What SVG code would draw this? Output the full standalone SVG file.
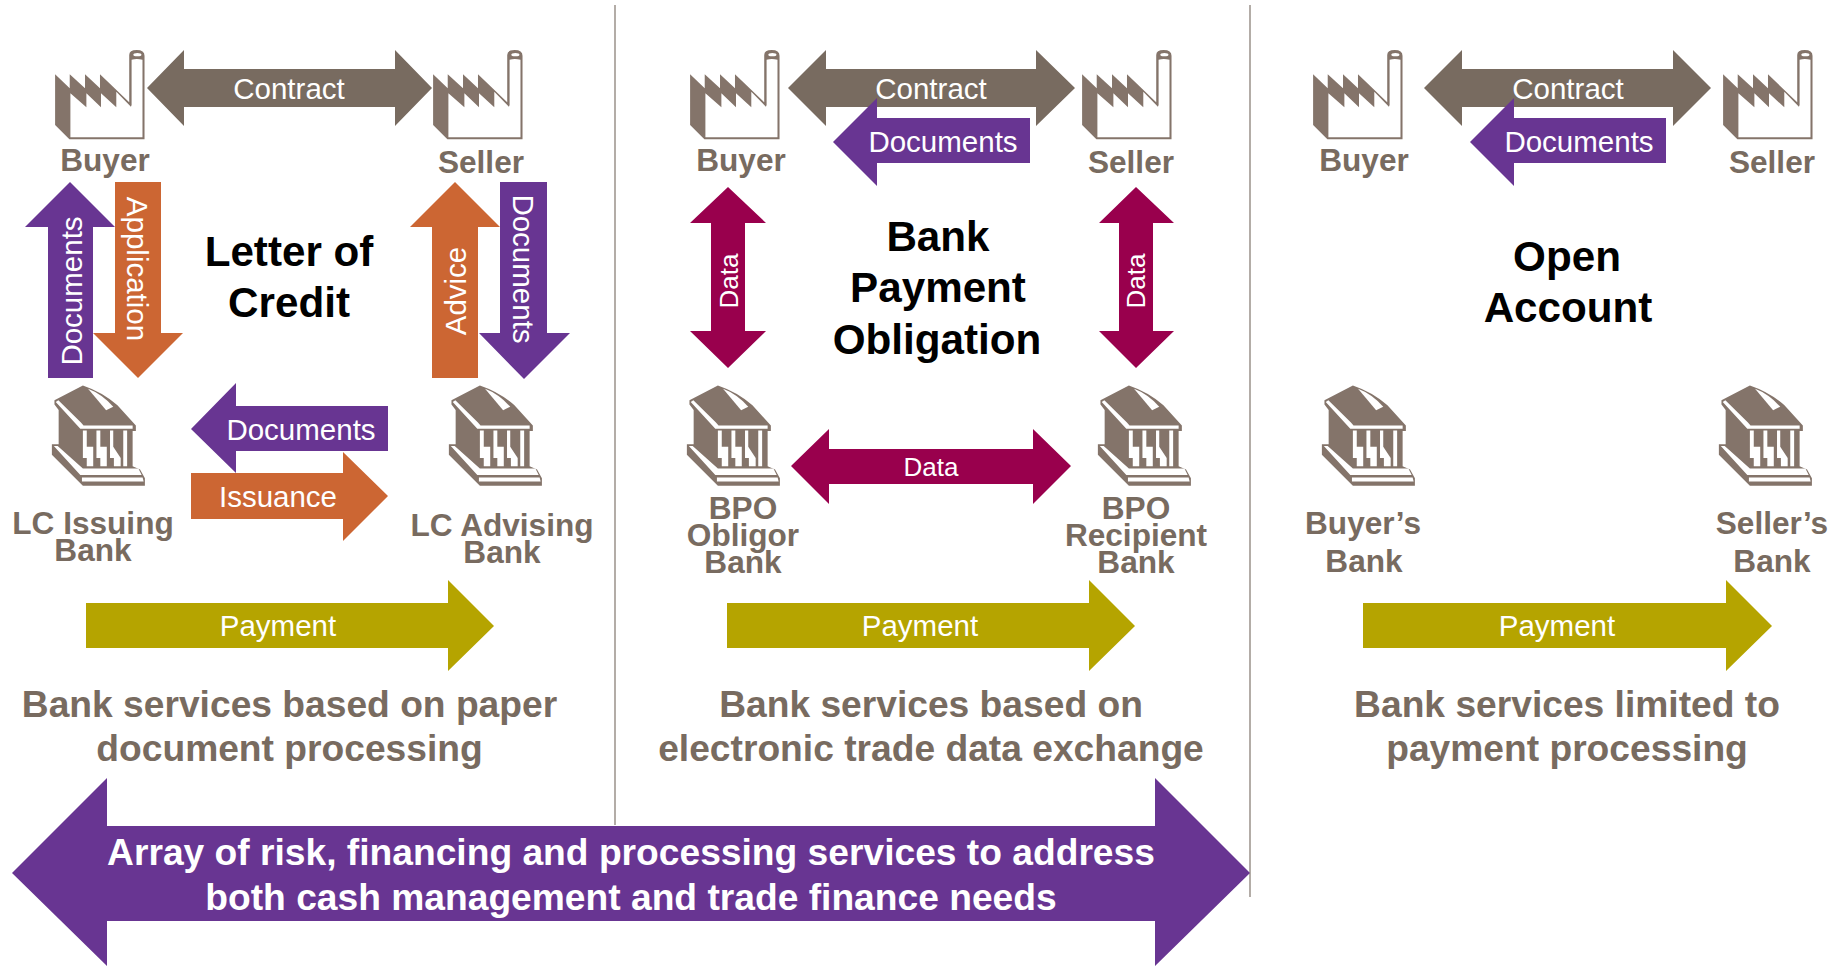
<svg xmlns="http://www.w3.org/2000/svg" xmlns:xlink="http://www.w3.org/1999/xlink" width="1841" height="966" viewBox="0 0 1841 966">
<style>
text{font-family:"Liberation Sans",Arial,sans-serif;text-anchor:middle}
.lb{font-weight:700;font-size:31.6px;fill:#786b60}
.ar{font-size:29.5px;fill:#fff}
.dt{font-size:26px;fill:#fff}
.ti{font-weight:700;font-size:42.2px;fill:#000}
.su{font-weight:700;font-size:37.2px;fill:#786b60}
.bg{font-weight:700;font-size:37.2px;fill:#fff}
.tp{fill:#786b60}.pu{fill:#683592}.or{fill:#cc6633}.ol{fill:#b5a400}.ma{fill:#99004d}
.ln{stroke:#8a8078;stroke-width:1.3;fill:none}
.ic{fill:#84746a}
.wh{fill:#fff}
</style>
<defs>
<g id="factory" transform="scale(0.34 0.3333)">
<path class="ic" d="M15 88L58 130V88L103 130V88L147 130V88L233 172V30Q233 15 255 15Q278 15 278 32V283H57L15 240Z"/>
<path class="wh" d="M60 145L107 187V145L150 187V145L195 187V140L238 185L240 180V44Q255 40 272 44V277H60Z"/>
<ellipse class="wh" cx="257" cy="29" rx="12" ry="5"/>
</g>
<g id="bank" transform="scale(0.323 0.325)">
<path class="ic" d="M20 62L108 17Q170 38 215 78L272 140V157H262V265L285 275L300 302V325H108L12 230V198H33V92L20 75Z"/>
<path class="wh" d="M24 68L32 62L102 131L110 140H262V150H100Z"/>
<path class="wh" d="M124 27Q165 42 202 82L180 93Z"/>
<path class="wh" d="M108 155H120V205H140V265H120V240H108ZM150 155H162V205H182V265H162V240H150ZM192 155H202V205L225 240V265H204V240H192ZM233 155H245V265H233Z"/>
<path class="wh" d="M18 203H30L108 272H280L290 292H100Z"/>
<path class="wh" d="M105 300H293L296 312H105Z"/>
</g>
</defs>
<g id="dividers">
<path class="ln" d="M615 5V825"/>
<path class="ln" d="M1250 5V897"/>
</g>
<g id="connectors">
<path class="tp" d="M147 88L184 50V69H395V50L432 88L395 126V107H184V126Z"/>
<path class="tp" d="M788 88L826 50V69H1036V50L1075 88L1036 126V107H826V126Z"/>
<path class="tp" d="M1424 88L1462 50V69H1673V50L1711 88L1673 126V107H1462V126Z"/>
<path class="pu" d="M833 142L877 98V118H1030V163H877V186Z"/>
<path class="pu" d="M1470 142L1514 98V118H1666V163H1514V186Z"/>
<path class="pu" d="M70 182L115 227H93V378H48V227H25Z"/>
<path class="or" d="M115 182H161V333H183L138 378L93 333H115Z"/>
<path class="or" d="M455 182L500 227H478V378H432V227H410Z"/>
<path class="pu" d="M500 182H547V333H570L524 379L479 333H500Z"/>
<path class="pu" d="M191 429L236 383V406H388V451H236V473Z"/>
<path class="or" d="M191 473H343V452L388 496L343 541V519H191Z"/>
<path class="ol" d="M86 603H448V580L494 626L448 671V648H86Z"/>
<path class="ol" d="M727 603H1089V580L1135 626L1089 671V648H727Z"/>
<path class="ol" d="M1363 603H1726V580L1772 626L1726 671V648H1363Z"/>
<path class="ma" d="M728 187L766 223H745V331H766L728 368L690 331H711V223H690Z"/>
<path class="ma" d="M1136 187L1174 223H1153V331H1174L1136 368L1099 331H1119V223H1099Z"/>
<path class="ma" d="M791 466L829 429V449H1033V429L1071 466L1033 504V484H829V504Z"/>
<path class="pu" d="M12 873L107 778V826H1155V778L1250 873L1155 966V921H107V966Z"/>
</g>
<g id="factories">
<g id="n-buyer1" transform="translate(50 45)"><use xlink:href="#factory" href="#factory"/></g>
<g id="n-seller1" transform="translate(428 45)"><use xlink:href="#factory" href="#factory"/></g>
<g id="n-buyer2" transform="translate(685 45)"><use xlink:href="#factory" href="#factory"/></g>
<g id="n-seller2" transform="translate(1077 45)"><use xlink:href="#factory" href="#factory"/></g>
<g id="n-buyer3" transform="translate(1308 45)"><use xlink:href="#factory" href="#factory"/></g>
<g id="n-seller3" transform="translate(1718 45)"><use xlink:href="#factory" href="#factory"/></g>
</g>
<g id="banks">
<g id="n-bank1" transform="translate(48 380)"><use xlink:href="#bank" href="#bank"/></g>
<g id="n-bank2" transform="translate(445 380)"><use xlink:href="#bank" href="#bank"/></g>
<g id="n-bank3" transform="translate(683 380)"><use xlink:href="#bank" href="#bank"/></g>
<g id="n-bank4" transform="translate(1094 380)"><use xlink:href="#bank" href="#bank"/></g>
<g id="n-bank5" transform="translate(1318 380)"><use xlink:href="#bank" href="#bank"/></g>
<g id="n-bank6" transform="translate(1715 380)"><use xlink:href="#bank" href="#bank"/></g>
</g>
<g id="labels">
<text class="lb" x="105" y="171">Buyer</text>
<text class="lb" x="481" y="173">Seller</text>
<text class="lb" x="741" y="171">Buyer</text>
<text class="lb" x="1131" y="173">Seller</text>
<text class="lb" x="1364" y="171">Buyer</text>
<text class="lb" x="1772" y="173">Seller</text>
<text class="lb" x="93" y="534">LC Issuing</text>
<text class="lb" x="93" y="561">Bank</text>
<text class="lb" x="502" y="536">LC Advising</text>
<text class="lb" x="502" y="563">Bank</text>
<text class="lb" x="743" y="519">BPO</text>
<text class="lb" x="743" y="546">Obligor</text>
<text class="lb" x="743" y="573">Bank</text>
<text class="lb" x="1136" y="519">BPO</text>
<text class="lb" x="1136" y="546">Recipient</text>
<text class="lb" x="1136" y="573">Bank</text>
<text class="lb" x="1363" y="534">Buyer’s</text>
<text class="lb" x="1364" y="572">Bank</text>
<text class="lb" x="1772" y="534">Seller’s</text>
<text class="lb" x="1772" y="572">Bank</text>
<text class="ar" x="289" y="99">Contract</text>
<text class="ar" x="931" y="99">Contract</text>
<text class="ar" x="1568" y="99">Contract</text>
<text class="ar" x="943" y="152">Documents</text>
<text class="ar" x="1579" y="152">Documents</text>
<text class="ar" x="301" y="440">Documents</text>
<text class="ar" x="278" y="507">Issuance</text>
<text class="ar" x="278" y="636">Payment</text>
<text class="ar" x="920" y="636">Payment</text>
<text class="ar" x="1557" y="636">Payment</text>
<text class="ar" transform="translate(82 291) rotate(-90)">Documents</text>
<text class="ar" transform="translate(127 269) rotate(90)">Application</text>
<text class="ar" transform="translate(466 291) rotate(-90)">Advice</text>
<text class="ar" transform="translate(513 269) rotate(90)">Documents</text>
<text class="dt" transform="translate(738 281) rotate(-90)">Data</text>
<text class="dt" transform="translate(1145 281) rotate(-90)">Data</text>
<text class="dt" x="931" y="476">Data</text>
<text class="ti" x="289" y="266">Letter of</text>
<text class="ti" x="289" y="317">Credit</text>
<text class="ti" x="938" y="251">Bank</text>
<text class="ti" x="938" y="302">Payment</text>
<text class="ti" x="937" y="354">Obligation</text>
<text class="ti" x="1567" y="271">Open</text>
<text class="ti" x="1568" y="322">Account</text>
<text class="su" x="289.500" y="717">Bank services based on paper</text>
<text class="su" x="289.500" y="761">document processing</text>
<text class="su" x="931" y="717">Bank services based on</text>
<text class="su" x="931" y="761">electronic trade data exchange</text>
<text class="su" x="1567" y="717">Bank services limited to</text>
<text class="su" x="1567" y="761">payment processing</text>
<text class="bg" x="631" y="865">Array of risk, financing and processing services to address</text>
<text class="bg" x="631" y="910">both cash management and trade finance needs</text>
</g>
</svg>
